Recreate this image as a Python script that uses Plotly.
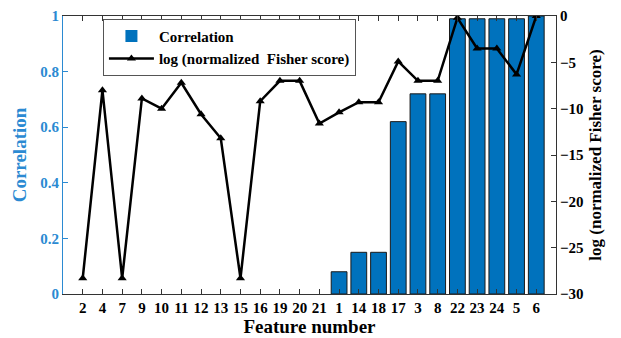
import plotly.graph_objects as go

features = ["2","4","7","9","10","11","12","13","15","16","19","20","21","1","14","18","17","3","8","22","23","24","5","6"]
correlation = [0,0,0,0,0,0,0,0,0,0,0,0,0,0.08,0.15,0.15,0.62,0.72,0.72,0.99,0.99,0.99,0.99,1.0]
log_fisher = [-28.3,-8.0,-28.3,-8.9,-10.0,-7.2,-10.6,-13.2,-28.3,-9.2,-7.0,-7.0,-11.6,-10.4,-9.3,-9.3,-4.9,-7.0,-7.0,-0.2,-3.5,-3.5,-6.3,0.0]

BLUE = "#0072BD"
AXBLUE = "#2b8ad2"
FONT = "Liberation Serif"

edge_widths = [1 if v > 0 else 0 for v in correlation]

fig = go.Figure()
fig.add_trace(go.Bar(x=features, y=correlation, name="Correlation",
                     marker=dict(color=BLUE, line=dict(color="#1a1a1a", width=edge_widths)),
                     width=0.8, yaxis="y"))
fig.add_trace(go.Scatter(x=features, y=log_fisher, name="log (normalized  Fisher score)",
                         mode="lines+markers", yaxis="y2",
                         line=dict(color="black", width=2.5),
                         marker=dict(symbol="triangle-up", size=8, color="black")))

fig.update_layout(
    width=621, height=338,
    margin=dict(l=63, r=65, t=16, b=44),
    plot_bgcolor="white", paper_bgcolor="white",
    font=dict(family=FONT, size=14, color="black"),
    showlegend=True,
    legend=dict(x=0.081, y=0.99, xanchor="left", yanchor="top",
                bgcolor="white", bordercolor="#555", borderwidth=1,
                font=dict(family=FONT, size=15, color="black", weight="bold"),
                tracegroupgap=0, itemwidth=45),
    xaxis=dict(type="category", range=[-1, 24], showline=True, linecolor="#333", linewidth=1,
               mirror="ticks", ticks="inside", ticklen=5, tickcolor="#333", automargin=False,
               tickfont=dict(family=FONT, size=15, color="black", weight="bold"),
               title=dict(text="Feature number", font=dict(family=FONT, size=19, color="black", weight="bold"), standoff=2),
               showgrid=False, zeroline=False),
    yaxis=dict(range=[0, 1], tickvals=[0,0.2,0.4,0.6,0.8,1], ticktext=["0","0.2","0.4","0.6","0.8","1"],
               showline=True, linecolor=AXBLUE, linewidth=1, ticks="inside", ticklen=5, tickcolor=AXBLUE,
               automargin=False,
               tickfont=dict(family=FONT, size=15, color=AXBLUE, weight="bold"),
               title=dict(text="Correlation", font=dict(family=FONT, size=19, color=AXBLUE, weight="bold"), standoff=8),
               showgrid=False, zeroline=False),
    yaxis2=dict(range=[-30, 0], overlaying="y", side="right", tickvals=[-30,-25,-20,-15,-10,-5,0],
                showline=True, linecolor="#333", linewidth=1, ticks="inside", ticklen=5, tickcolor="#333",
                automargin=False,
                tickfont=dict(family=FONT, size=15, color="black", weight="bold"),
                title=dict(text="log (normalized Fisher score)", font=dict(family=FONT, size=17, color="black", weight="bold"), standoff=6),
                showgrid=False, zeroline=False),
    bargap=0.2,
)

fig.write_html("out.html")
